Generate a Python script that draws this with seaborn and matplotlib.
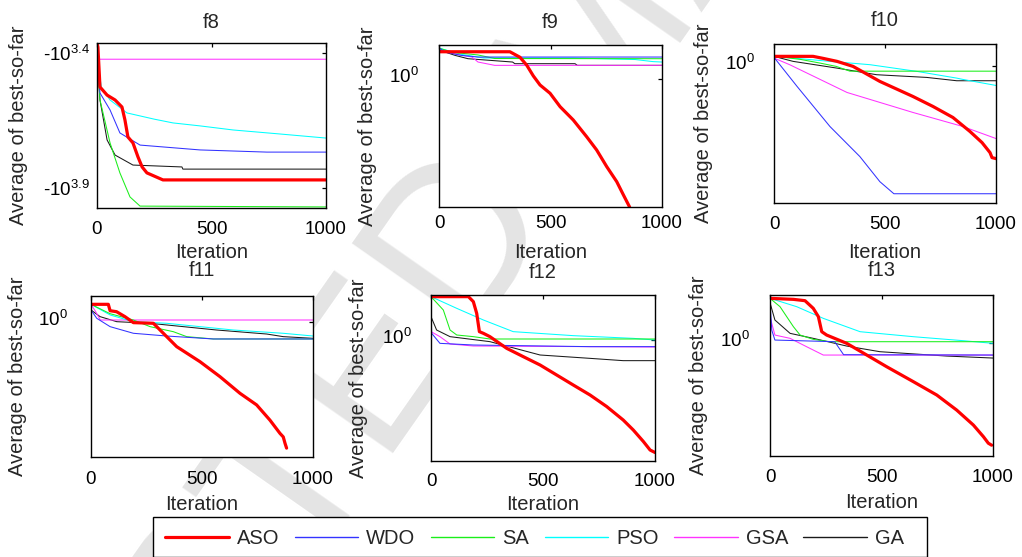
import numpy as np
import pandas as pd
import matplotlib
matplotlib.use("Agg")
import matplotlib.pyplot as plt
import seaborn as sns
from matplotlib.lines import Line2D
from matplotlib.patches import Rectangle
from matplotlib.transforms import ScaledTranslation

# ---------------------------------------------------------------- data
ALGOS = ["ASO", "WDO", "SA", "PSO", "GSA", "GA"]
DRAW_ORDER = ["GA", "GSA", "PSO", "SA", "WDO", "ASO"]
COLORS = {"ASO": "#ff0000", "WDO": "#3333ff", "SA": "#1aee1a",
          "PSO": "#00ffff", "GSA": "#ff33ff", "GA": "#1a1a1a"}
WIDTHS = {"ASO": 2.3, "WDO": 0.75, "SA": 0.75, "PSO": 0.75, "GSA": 0.75, "GA": 0.75}

# f8: average best-so-far (negative objective values)
F8_ASO_IT = [0, 4, 13, 44, 79, 109, 122, 135, 157, 179, 197, 218, 288, 1000]
F8_ASO_VAL = [-2307, -2388, -3357, -3597, -3750, -3981, -4446, -5140, -5408, -6095, -6637, -6982, -7413, -7413]
F8_WDO_IT = [0, 4, 13, 57, 100, 188, 450, 742, 1000]
F8_WDO_VAL = [-2307, -2831, -3532, -4083, -4966, -5508, -5741, -5848, -5848]
F8_SA_IT = [0, 4, 13, 57, 100, 144, 188, 1000]
F8_SA_VAL = [-2307, -2831, -3750, -5408, -6982, -8570, -9268, -9333]
F8_PSO_IT = [0, 5, 20, 57, 131, 250, 332, 450, 594, 800, 1000]
F8_PSO_VAL = [-2307, -2818, -3388, -3750, -4188, -4416, -4560, -4677, -4842, -5012, -5188]
F8_GSA_IT = [0, 3, 1000]
F8_GSA_VAL = [-2307, -2649, -2649]
F8_GA_IT = [0, 4, 13, 44, 79, 157, 371, 375, 1000]
F8_GA_VAL = [-2307, -2831, -3750, -5272, -5998, -6531, -6637, -6761, -6761]

# f9 .. f13: base-10 exponent of the average best-so-far
F9_ASO_IT = [0, 318, 363, 393, 423, 453, 498, 543, 602, 662, 707, 752, 797, 827, 854, 860]
F9_ASO_EXP = [2.65, 2.65, 2.12, 1.37, 0.32, -0.55, -1.35, -2.64, -3.92, -5.53, -6.81, -8.41, -9.86, -11.14, -12.27, -12.8]
F9_WDO_IT = [0, 30, 100, 175, 1000]
F9_WDO_EXP = [3.01, 2.6, 2.3, 2.14, 2.14]
F9_SA_IT = [0, 60, 175, 250, 1000]
F9_SA_EXP = [3.0, 2.6, 2.34, 2.0, 1.98]
F9_PSO_IT = [0, 100, 200, 600, 880, 960, 1000]
F9_PSO_EXP = [3.0, 2.4, 2.05, 2.05, 1.9, 1.7, 1.66]
F9_GSA_IT = [0, 80, 148, 175, 250, 1000]
F9_GSA_EXP = [2.9, 2.4, 2.14, 1.66, 1.34, 1.34]
F9_GA_IT = [0, 72, 130, 330, 340, 610, 620, 1000]
F9_GA_EXP = [2.82, 2.3, 1.98, 1.66, 1.5, 1.5, 1.34, 1.34]

F10_ASO_IT = [0, 176, 221, 284, 356, 477, 626, 716, 806, 883, 937, 973, 982, 1000]
F10_ASO_EXP = [1.30, 1.30, 1.04, 0.65, 0.0, -1.95, -3.9, -5.19, -6.62, -8.44, -9.87, -11.17, -11.82, -11.95]
F10_WDO_IT = [0, 104, 252, 387, 477, 540, 1000]
F10_WDO_EXP = [1.17, -2.6, -7.79, -11.69, -14.94, -16.5, -16.5]
F10_SA_IT = [0, 50, 120, 207, 280, 342, 1000]
F10_SA_EXP = [1.3, 1.15, 0.9, 0.43, 0.0, -0.62, -0.62]
F10_PSO_IT = [0, 252, 432, 644, 823, 851, 1000]
F10_PSO_EXP = [1.3, 0.65, 0.22, -0.65, -1.52, -1.69, -2.47]
F10_GSA_IT = [0, 72, 329, 626, 851, 1000]
F10_GSA_EXP = [1.08, 0.2, -3.38, -5.97, -7.79, -9.35]
F10_GA_IT = [0, 86, 283, 462, 688, 823, 1000]
F10_GA_EXP = [1.3, 0.65, -0.22, -1.08, -1.43, -1.86, -1.86]

F11_ASO_IT = [0, 78, 86, 115, 153, 191, 281, 296, 386, 491, 581, 671, 746, 806, 851, 866, 874, 881]
F11_ASO_EXP = [2.17, 2.17, 1.37, 1.25, 0.63, -0.12, -0.2, -0.62, -3.12, -5.0, -6.87, -8.95, -10.4, -12.3, -13.95, -14.4, -15.2, -15.8]
F11_WDO_IT = [0, 26, 86, 191, 341, 551, 1000]
F11_WDO_EXP = [1.46, 0.42, -0.62, -1.45, -1.79, -2.16, -2.16]
F11_SA_IT = [0, 86, 191, 266, 371, 431, 551, 1000]
F11_SA_EXP = [2.17, 1.0, 0.21, -0.62, -1.25, -1.87, -2.16, -2.16]
F11_PSO_IT = [0, 86, 191, 341, 641, 866, 1000]
F11_PSO_EXP = [2.17, 0.84, 0.0, -0.2, -1.04, -1.45, -1.79]
F11_GSA_IT = [0, 20, 42, 1000]
F11_GSA_EXP = [2.17, 1.3, 0.21, 0.21]
F11_GA_IT = [0, 41, 116, 266, 416, 566, 791, 866, 1000]
F11_GA_EXP = [1.46, 0.63, 0.0, -0.2, -0.62, -1.04, -1.54, -1.87, -2.08]

F12_ASO_IT = [0, 167, 189, 204, 216, 234, 263, 338, 412, 487, 561, 635, 710, 784, 858, 903, 948, 978, 1000]
F12_ASO_EXP = [8.67, 8.67, 7.67, 5.33, 1.67, 1.33, 0.67, -1.67, -3.33, -5.0, -7.0, -9.0, -11.0, -13.3, -16.0, -18.0, -20.3, -22.0, -22.5]
F12_WDO_IT = [0, 3, 40, 189, 710, 1000]
F12_WDO_EXP = [5.5, 1.33, -0.67, -1.0, -1.33, -1.33]
F12_SA_IT = [0, 55, 85, 115, 189, 263, 1000]
F12_SA_EXP = [8.67, 6.0, 2.0, 1.0, 0.67, 0.2, 0.2]
F12_PSO_IT = [0, 115, 234, 367, 635, 903, 1000]
F12_PSO_EXP = [8.67, 6.33, 4.0, 1.67, 0.87, 0.33, 0.0]
F12_GSA_IT = [0, 40, 85, 189, 1000]
F12_GSA_EXP = [1.67, 0.67, -0.8, -1.2, -1.4]
F12_GA_IT = [0, 25, 85, 263, 487, 710, 858, 1000]
F12_GA_EXP = [4.67, 2.0, 0.67, -0.33, -3.0, -3.67, -4.13, -4.13]

F13_ASO_IT = [0, 105, 157, 194, 217, 232, 254, 344, 434, 523, 643, 748, 837, 912, 957, 979, 994]
F13_ASO_EXP = [8.87, 8.67, 8.4, 6.87, 5.2, 2.2, 1.53, -0.13, -2.47, -4.8, -7.8, -10.47, -13.47, -16.47, -18.8, -20.1, -20.5]
F13_WDO_IT = [0, 8, 22, 290, 330, 1000]
F13_WDO_EXP = [8.0, 2.5, 0.53, 0.2, -2.4, -2.47]
F13_SA_IT = [0, 45, 105, 135, 194, 269, 1000]
F13_SA_EXP = [8.87, 7.2, 3.2, 1.53, 0.67, 0.2, 0.2]
F13_PSO_IT = [0, 120, 239, 404, 643, 867, 1000]
F13_PSO_EXP = [8.87, 7.2, 4.87, 2.2, 1.2, 0.4, -0.13]
F13_GSA_IT = [0, 22, 90, 164, 239, 1000]
F13_GSA_EXP = [5.2, 1.53, 0.87, -0.8, -2.47, -2.47]
F13_GA_IT = [0, 22, 90, 194, 344, 493, 792, 1000]
F13_GA_EXP = [8.0, 4.54, 1.87, 0.87, -0.67, -1.8, -2.67, -3.07]

X_TICKS = [0, 500, 1000]
F8_Y_TICKS = [-10 ** 3.4, -10 ** 3.9]
F8_Y_TICK_LABELS = ["-$10^{3.4}$", "-$10^{3.9}$"]
LOG_Y_TICKS = [1.0]
LOG_Y_TICK_LABELS = ["$10^{0}$"]

# ---------------------------------------------------------------- style
sns.set_style("white")
plt.rcParams["font.family"] = ["Liberation Sans", "DejaVu Sans"]
plt.rcParams["mathtext.default"] = "regular"

W, H = 1022, 557
fig = plt.figure(figsize=(W / 100, H / 100), dpi=100)
PX = 72.0 / 100.0  # points per pixel

# watermark behind the panels
fig.text(605 / W, 1 - 50 / H, "ACCEPTED MANUSCRIPT", rotation=55, rotation_mode="anchor",
         ha="center", va="center", fontsize=160, color="#e4e4e4", zorder=-10)


def series_frame(its, vals, transform):
    frames = []
    for algo in DRAW_ORDER:
        frames.append(pd.DataFrame({"Iteration": its[algo],
                                    "value": transform(np.asarray(vals[algo], float)),
                                    "algo": algo}))
    return pd.concat(frames, ignore_index=True)


# name, (left, top, right, bottom) px, y exponent limits, title y, xlabel y, ylabel x,
# xtick offset, ytick pad, ytick label lift (px)
PANELS = [
    ("f8", (97, 43, 326, 208), None, 22, 253, 19, 19, 7, 0),
    ("f9", (439, 45, 662, 207), (-12.3, 3.3), 23, 252, 367, 14, 20, 4),
    ("f10", (774, 44, 996, 203), (-17.7, 2.9), 20, 252, 703, 19, 19, 4),
    ("f11", (91, 296, 313, 457), (-16.91, 3.21), 271, 504, 18, 20, 23, 4),
    ("f12", (431, 295, 655, 461), (-24.2, 9.0), 272, 505, 358, 18, 19, 4),
    ("f13", (770, 295, 993, 456), (-22.66, 9.54), 271, 502, 698, 19, 20, 4),
]

DATA = {
    "f8": ({"ASO": F8_ASO_IT, "WDO": F8_WDO_IT, "SA": F8_SA_IT, "PSO": F8_PSO_IT, "GSA": F8_GSA_IT, "GA": F8_GA_IT},
           {"ASO": F8_ASO_VAL, "WDO": F8_WDO_VAL, "SA": F8_SA_VAL, "PSO": F8_PSO_VAL, "GSA": F8_GSA_VAL, "GA": F8_GA_VAL}),
    "f9": ({"ASO": F9_ASO_IT, "WDO": F9_WDO_IT, "SA": F9_SA_IT, "PSO": F9_PSO_IT, "GSA": F9_GSA_IT, "GA": F9_GA_IT},
           {"ASO": F9_ASO_EXP, "WDO": F9_WDO_EXP, "SA": F9_SA_EXP, "PSO": F9_PSO_EXP, "GSA": F9_GSA_EXP, "GA": F9_GA_EXP}),
    "f10": ({"ASO": F10_ASO_IT, "WDO": F10_WDO_IT, "SA": F10_SA_IT, "PSO": F10_PSO_IT, "GSA": F10_GSA_IT, "GA": F10_GA_IT},
            {"ASO": F10_ASO_EXP, "WDO": F10_WDO_EXP, "SA": F10_SA_EXP, "PSO": F10_PSO_EXP, "GSA": F10_GSA_EXP, "GA": F10_GA_EXP}),
    "f11": ({"ASO": F11_ASO_IT, "WDO": F11_WDO_IT, "SA": F11_SA_IT, "PSO": F11_PSO_IT, "GSA": F11_GSA_IT, "GA": F11_GA_IT},
            {"ASO": F11_ASO_EXP, "WDO": F11_WDO_EXP, "SA": F11_SA_EXP, "PSO": F11_PSO_EXP, "GSA": F11_GSA_EXP, "GA": F11_GA_EXP}),
    "f12": ({"ASO": F12_ASO_IT, "WDO": F12_WDO_IT, "SA": F12_SA_IT, "PSO": F12_PSO_IT, "GSA": F12_GSA_IT, "GA": F12_GA_IT},
            {"ASO": F12_ASO_EXP, "WDO": F12_WDO_EXP, "SA": F12_SA_EXP, "PSO": F12_PSO_EXP, "GSA": F12_GSA_EXP, "GA": F12_GA_EXP}),
    "f13": ({"ASO": F13_ASO_IT, "WDO": F13_WDO_IT, "SA": F13_SA_IT, "PSO": F13_PSO_IT, "GSA": F13_GSA_IT, "GA": F13_GA_IT},
            {"ASO": F13_ASO_EXP, "WDO": F13_WDO_EXP, "SA": F13_SA_EXP, "PSO": F13_PSO_EXP, "GSA": F13_GSA_EXP, "GA": F13_GA_EXP}),
}


def neg_log_fwd(y):
    y = np.asarray(y, float)
    with np.errstate(divide="ignore", invalid="ignore"):
        return np.log10(np.clip(-y, 1e-300, None))


def neg_log_inv(t):
    return -np.power(10.0, np.asarray(t, float))


for name, (l, t, r, b), exp_lim, title_y, xlab_y, ylab_x, xoff, ypad, ylift in PANELS:
    ax = fig.add_axes([l / W, 1 - b / H, (r - l) / W, (b - t) / H])
    its, vals = DATA[name]
    if exp_lim is None:
        ax.set_yscale("function", functions=(neg_log_fwd, neg_log_inv))
        df = series_frame(its, vals, lambda v: v)
    else:
        ax.set_yscale("log")
        df = series_frame(its, vals, lambda v: np.power(10.0, v))

    sns.lineplot(data=df, x="Iteration", y="value", hue="algo", hue_order=DRAW_ORDER,
                 palette=COLORS, size="algo", size_order=DRAW_ORDER, sizes=WIDTHS,
                 estimator=None, sort=False, errorbar=None, legend=False, ax=ax)

    ax.set_xlim(0, 1000)
    ax.set_xticks(X_TICKS)
    if exp_lim is None:
        # larger magnitudes further down
        ax.set_ylim(-10 ** 3.363, -10 ** 3.974)
        ax.set_yticks(F8_Y_TICKS, F8_Y_TICK_LABELS)
    else:
        ax.set_ylim(10 ** exp_lim[0], 10 ** exp_lim[1])
        ax.set_yticks(LOG_Y_TICKS, LOG_Y_TICK_LABELS)
    ax.minorticks_off()

    for sp in ax.spines.values():
        sp.set_visible(True)
        sp.set_color("black")
        sp.set_linewidth(1.0)

    ax.tick_params(axis="both", direction="in", length=3, width=0.9, colors="black",
                   top=True, right=True, labelsize=13.5)
    ax.tick_params(axis="x", pad=(xoff - 6) * PX)
    ax.tick_params(axis="y", pad=ypad * PX)
    if ylift:
        for tk in ax.yaxis.get_major_ticks():
            tk.label1.set_transform(tk.label1.get_transform() +
                                    ScaledTranslation(0, ylift / 100, fig.dpi_scale_trans))

    hpx = b - t
    wpx = r - l
    ax.set_title(name, fontsize=14.5, y=(b - title_y) / hpx, pad=0, va="center")
    ax.set_xlabel("Iteration", fontsize=14.5)
    ax.xaxis.set_label_coords(0.5, (b - xlab_y) / hpx)
    ax.xaxis.label.set_va("center")
    ax.set_ylabel("Average of best-so-far", fontsize=14.5)
    ax.yaxis.set_label_coords((ylab_x - l) / wpx, 0.5)
    ax.yaxis.label.set_va("center")

# legend box spanning the panel row, entries laid out inside it
fig.patches.append(Rectangle((153 / W, 0), (927 - 153) / W, 1 - 517 / H,
                             transform=fig.transFigure, facecolor="white",
                             edgecolor="black", linewidth=1.0, zorder=4))
handles = [Line2D([], [], color=COLORS[a], lw=(WIDTHS[a] if a == "ASO" else 1.0)) for a in ALGOS]
leg = fig.legend(handles, ALGOS, ncol=6, loc="upper left",
                 bbox_to_anchor=(153 / W, 1 - 517 / H), bbox_transform=fig.transFigure,
                 frameon=False, fontsize=14.5, handlelength=3.15, handletextpad=0.4,
                 columnspacing=0.77, borderpad=0.6, borderaxespad=0)
leg.set_zorder(5)

fig.savefig("out.png", dpi=100)
